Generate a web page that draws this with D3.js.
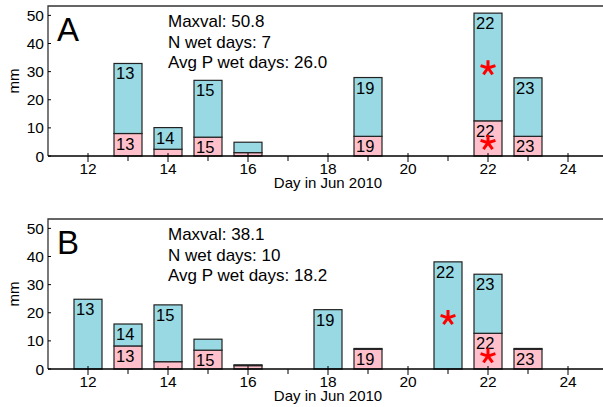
<!DOCTYPE html>
<html><head><meta charset="utf-8">
<script src="https://cdn.jsdelivr.net/npm/d3@7"></script>
<style>
html,body{margin:0;padding:0;background:#fff;}
svg{display:block;font-family:"Liberation Sans",Arial,Helvetica,sans-serif;}
</style></head>
<body>
<svg id="c" width="603" height="407"></svg>
<script>
// ---- data ----
const yTicks = [0, 10, 20, 30, 40, 50];
const xTicksMajor = [12, 14, 16, 18, 20, 22, 24];
const xTicksMinor = [13, 15, 17, 19, 21, 23];
const xTitle = "Day in Jun 2010";
const yTitle = "mm";
const yMax = 53.34;

const daysA   = [13, 14, 15, 16, 19, 22, 23];
const lowerA  = [8.0, 2.4, 6.7, 1.2, 7.0, 12.5, 7.0];
const totalA  = [32.9, 10.1, 26.9, 4.9, 27.9, 50.8, 27.8];
const upLabA  = ["13", "14", "15", "", "19", "22", "23"];
const lowLabA = ["13", "", "15", "", "19", "22", "23"];
const starDaysA = [22, 22];
const starValsA = [31.3, 4.7];
const statsA = ["Maxval: 50.8", "N wet days: 7", "Avg P wet days: 26.0"];

const daysB   = [12, 13, 14, 15, 16, 18, 19, 21, 22, 23];
const lowerB  = [0, 8.2, 2.6, 6.7, 1.2, 0, 7.0, 0, 12.7, 7.0];
const totalB  = [24.8, 16.0, 22.8, 10.6, 1.5, 21.1, 7.3, 38.1, 33.7, 7.3];
const upLabB  = ["13", "14", "15", "", "", "19", "", "22", "23", ""];
const lowLabB = ["", "13", "", "15", "", "", "19", "", "22", "23"];
const starDaysB = [21, 22];
const starValsB = [18.2, 4.6];
const statsB = ["Maxval: 38.1", "N wet days: 10", "Avg P wet days: 18.2"];

// ---- drawing ----
const svg = d3.select("#c");
const BLUE = "#99D9E4", PINK = "#FFC0CB";

const asterisk = {
  draw(ctx, size) {
    const r = Math.sqrt(size);
    for (let i = 0; i < 5; i++) {
      const a = -Math.PI / 2 + i * 2 * Math.PI / 5;
      ctx.moveTo(0, 0);
      ctx.lineTo(r * Math.cos(a), r * Math.sin(a));
    }
  }
};

function panel(cfg) {
  const {top, bottom, letter, days, lower, total, upLab, lowLab, starDays, starVals, stats} = cfg;
  const x = d3.scaleLinear().domain([11, 25]).range([48, 608]);
  const y = d3.scaleLinear().domain([0, yMax]).range([bottom, top]);
  const g = svg.append("g");
  const bw = x(11.7) - x(11);

  const rows = days.map((d, i) => ({d, lo: lower[i], tot: total[i], ul: upLab[i], ll: lowLab[i]}));

  // pink lower segments
  g.selectAll("rect.lo").data(rows.filter(r => r.lo > 0)).join("rect")
    .attr("x", r => x(r.d) - bw / 2).attr("width", bw)
    .attr("y", r => y(r.lo)).attr("height", r => y(0) - y(r.lo))
    .attr("fill", PINK).attr("stroke", "#222").attr("stroke-width", 1.2);
  // blue upper segments
  g.selectAll("rect.up").data(rows).join("rect")
    .attr("x", r => x(r.d) - bw / 2).attr("width", bw)
    .attr("y", r => y(r.tot)).attr("height", r => y(r.lo) - y(r.tot))
    .attr("fill", BLUE).attr("stroke", "#222").attr("stroke-width", 1.2);

  // labels
  g.selectAll("text.ul").data(rows.filter(r => r.ul)).join("text")
    .attr("x", r => x(r.d) - bw / 2 + 2).attr("y", r => y(r.tot) + 16)
    .attr("font-size", 16.5).attr("fill", "#000").text(r => r.ul);
  g.selectAll("text.ll").data(rows.filter(r => r.ll)).join("text")
    .attr("x", r => x(r.d) - bw / 2 + 2).attr("y", r => y(r.lo) + 16)
    .attr("font-size", 16.5).attr("fill", "#000").text(r => r.ll);

  // asterisks
  g.selectAll("path.star").data(starDays.map((d, i) => ({d, v: starVals[i]}))).join("path")
    .attr("transform", s => `translate(${x(s.d)},${y(s.v)})`)
    .attr("d", d3.symbol(asterisk, 7.8 * 7.8)())
    .attr("stroke", "#FF0000").attr("stroke-width", 3).attr("fill", "none");

  // frame top + left axis
  g.append("path")
    .attr("d", `M${x(11)},${y(0)}V${top}H${x(25)}`)
    .attr("fill", "none").attr("stroke", "#333").attr("stroke-width", 1.3);
  // y ticks
  g.selectAll("line.yt").data(yTicks).join("line")
    .attr("x1", x(11)).attr("x2", x(11) + 3).attr("y1", v => y(v)).attr("y2", v => y(v))
    .attr("stroke", "#000").attr("stroke-width", 1);
  g.selectAll("text.yt").data(yTicks).join("text")
    .attr("x", x(11) - 4).attr("y", v => y(v)).attr("dy", "0.36em")
    .attr("text-anchor", "end").attr("font-size", 15.5).text(v => v);
  // x axis
  g.append("line").attr("x1", x(11)).attr("x2", x(25)).attr("y1", y(0)).attr("y2", y(0))
    .attr("stroke", "#000").attr("stroke-width", 1.5);
  g.selectAll("line.xM").data(xTicksMajor).join("line")
    .attr("x1", d => x(d)).attr("x2", d => x(d)).attr("y1", y(0) - 3).attr("y2", y(0) + 6)
    .attr("stroke", "#000").attr("stroke-width", 1);
  g.selectAll("line.xm").data(xTicksMinor).join("line")
    .attr("x1", d => x(d)).attr("x2", d => x(d)).attr("y1", y(0)).attr("y2", y(0) + 5)
    .attr("stroke", "#000").attr("stroke-width", 1);
  g.selectAll("text.xt").data(xTicksMajor).join("text")
    .attr("x", d => x(d)).attr("y", y(0) + 17.5)
    .attr("text-anchor", "middle").attr("font-size", 15.5).text(d => d);
  g.append("text").attr("x", x(18)).attr("y", y(0) + 31.5)
    .attr("text-anchor", "middle").attr("font-size", 15).text(xTitle);
  g.append("text")
    .attr("transform", `translate(${19},${(top + bottom) / 2}) rotate(-90)`)
    .attr("text-anchor", "middle").attr("font-size", 15).text(yTitle);

  // panel letter
  g.append("text").attr("x", x(11) + 9).attr("y", top + 35)
    .attr("font-size", 33).text(letter);
  // stats
  g.selectAll("text.st").data(stats).join("text")
    .attr("x", x(14)).attr("y", (s, i) => top + 20.7 + i * 20.8)
    .attr("font-size", 17).text(s => s);
}

panel({top: 6, bottom: 156, letter: "A", days: daysA, lower: lowerA, total: totalA,
  upLab: upLabA, lowLab: lowLabA, starDays: starDaysA, starVals: starValsA, stats: statsA});
panel({top: 219, bottom: 369, letter: "B", days: daysB, lower: lowerB, total: totalB,
  upLab: upLabB, lowLab: lowLabB, starDays: starDaysB, starVals: starValsB, stats: statsB});
</script>
</body></html>
